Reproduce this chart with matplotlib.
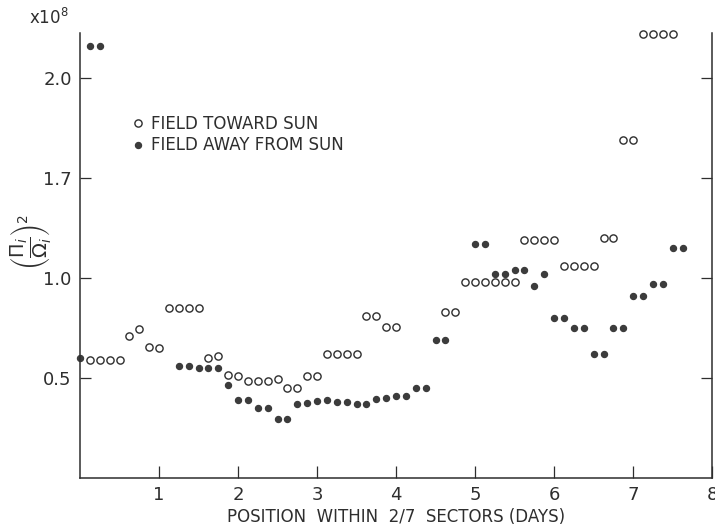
import matplotlib
matplotlib.use("Agg")
import matplotlib.pyplot as plt

plt.rcParams["font.family"] = ["DejaVu Sans"]
plt.rcParams["mathtext.fontset"] = "dejavusans"

ink = "#2e2e2e"

# position within the sector, days (3-hour bins)
toward_x = [0.125, 0.25, 0.375, 0.5, 0.625, 0.75, 0.875, 1.0,
            1.125, 1.25, 1.375, 1.5, 1.625, 1.75, 1.875, 2.0,
            2.125, 2.25, 2.375, 2.5, 2.625, 2.75, 2.875, 3.0,
            3.125, 3.25, 3.375, 3.5, 3.625, 3.75, 3.875, 4.0,
            4.625, 4.75, 4.875, 5.0, 5.125, 5.25, 5.375, 5.5,
            5.625, 5.75, 5.875, 6.0, 6.125, 6.25, 6.375, 6.5,
            6.625, 6.75, 6.875, 7.0, 7.125, 7.25, 7.375, 7.5]
toward_y = [0.59, 0.59, 0.59, 0.59, 0.71, 0.745, 0.655, 0.65,
            0.85, 0.85, 0.85, 0.85, 0.60, 0.61, 0.515, 0.51,
            0.485, 0.485, 0.485, 0.495, 0.45, 0.45, 0.51, 0.51,
            0.62, 0.62, 0.62, 0.62, 0.81, 0.81, 0.755, 0.755,
            0.83, 0.83, 0.98, 0.98, 0.98, 0.98, 0.98, 0.98,
            1.19, 1.19, 1.19, 1.19, 1.06, 1.06, 1.06, 1.06,
            1.20, 1.20, 1.69, 1.69, 2.22, 2.22, 2.22, 2.22]

away_x = [0.0, 0.125, 0.25,
          1.25, 1.375, 1.5, 1.625, 1.75, 1.875, 2.0, 2.125,
          2.25, 2.375, 2.5, 2.625, 2.75, 2.875, 3.0, 3.125,
          3.25, 3.375, 3.5, 3.625, 3.75, 3.875, 4.0, 4.125,
          4.25, 4.375, 4.5, 4.625,
          5.0, 5.125, 5.25, 5.375, 5.5, 5.625, 5.75, 5.875,
          6.0, 6.125, 6.25, 6.375, 6.5, 6.625, 6.75, 6.875,
          7.0, 7.125, 7.25, 7.375, 7.5, 7.625]
away_y = [0.60, 2.16, 2.16,
          0.56, 0.56, 0.55, 0.55, 0.55, 0.465, 0.39, 0.39,
          0.35, 0.35, 0.295, 0.295, 0.37, 0.375, 0.385, 0.39,
          0.38, 0.38, 0.37, 0.37, 0.395, 0.40, 0.41, 0.41,
          0.45, 0.45, 0.69, 0.69,
          1.17, 1.17, 1.02, 1.02, 1.04, 1.04, 0.96, 1.02,
          0.80, 0.80, 0.75, 0.75, 0.62, 0.62, 0.75, 0.75,
          0.91, 0.91, 0.97, 0.97, 1.15, 1.15]

x_ticks = [1, 2, 3, 4, 5, 6, 7, 8]
y_ticks = [0.5, 1.0, 1.5, 2.0]
y_tick_labels = ["0.5", "1.0", "1.7", "2.0"]

fig = plt.figure(figsize=(7.15, 5.31), dpi=100)
ax = fig.add_axes([0.112, 0.1, 0.884, 0.838])

ax.plot(toward_x, toward_y, linestyle="none", marker="o", markersize=5.2,
        markerfacecolor="white", markeredgecolor=ink, markeredgewidth=1.0,
        clip_on=False, label="FIELD TOWARD SUN")
ax.plot(away_x, away_y, linestyle="none", marker="o", markersize=4.3,
        markerfacecolor="#3c3c3c", markeredgecolor="#3c3c3c",
        clip_on=False, label="FIELD AWAY FROM SUN")

ax.set_xlim(0, 8)
ax.set_ylim(0, 2.225)

ax.spines["top"].set_visible(False)
for side in ("left", "right", "bottom"):
    ax.spines[side].set_color(ink)
    ax.spines[side].set_linewidth(1.1)

ax.set_xticks(x_ticks)
ax.set_yticks(y_ticks, labels=y_tick_labels)
ax.tick_params(axis="x", direction="in", length=9, width=0.9, color=ink,
               labelcolor=ink, labelsize=13, pad=6)
ax.tick_params(axis="y", direction="in", length=8, width=0.9, color=ink,
               labelcolor=ink, labelsize=13, pad=6, right=True)

ax.set_xlabel("POSITION  WITHIN  2/7  SECTORS (DAYS)", fontsize=12,
              color=ink, labelpad=3)

# y-axis quantity, placed by hand so the fraction keeps its full height
fig.text(0.042, 0.545, r"$\left(\dfrac{\Pi_i}{\Omega_i}\right)^2$",
         fontsize=14, color=ink, rotation=90, ha="center", va="center")

fig.text(0.04, 0.955, r"x10$^8$", fontsize=12, color=ink)

ax.legend(loc="upper left", bbox_to_anchor=(0.062, 0.85), frameon=False,
          handlelength=0.5, handletextpad=0.5, labelspacing=0.22,
          prop={"family": "DejaVu Sans", "size": 12}, labelcolor=ink)

fig.savefig("out.png", dpi=100, facecolor="white")
